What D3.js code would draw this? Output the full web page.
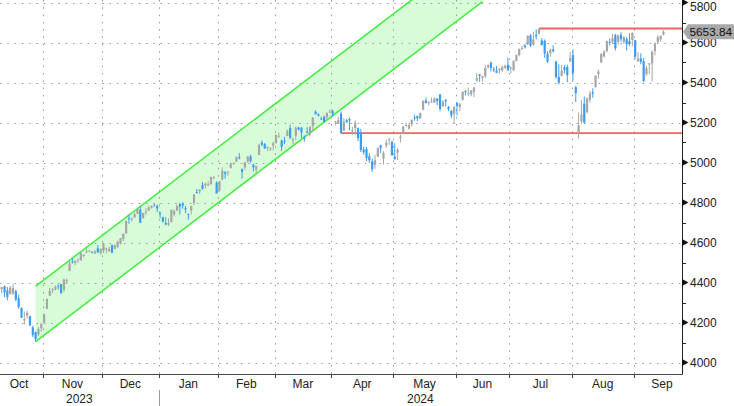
<!DOCTYPE html>
<html>
<head>
<meta charset="utf-8">
<script src="https://cdn.jsdelivr.net/npm/d3@7"></script>
<style>
  body { margin: 0; background: #fff; }
  svg { display: block; font-family: "Liberation Sans", Arial, sans-serif; }
</style>
</head>
<body>
<div id="chart"></div>
<script>
// daily candles per month: [day, open, high, low, close]
const oct23 = [
  [11,4366,4378,4345,4377],[12,4380,4385,4325,4350],[13,4360,4377,4311,4328],[16,4342,4383,4342,4374],
  [17,4345,4393,4337,4373],[18,4357,4364,4306,4315],[19,4321,4339,4269,4278],[20,4273,4276,4223,4224],
  [23,4210,4255,4189,4217],[24,4235,4259,4219,4248],[25,4232,4232,4181,4187],[26,4175,4184,4127,4137],
  [27,4152,4156,4104,4117],[30,4140,4177,4132,4167],[31,4171,4195,4153,4194]
];
const nov23 = [
  [1,4201,4245,4197,4238],[2,4268,4320,4268,4318],[3,4334,4373,4334,4358],[6,4365,4372,4347,4366],
  [7,4366,4386,4360,4378],[8,4384,4391,4364,4383],[9,4392,4393,4343,4347],[10,4364,4418,4353,4415],
  [13,4406,4421,4393,4412],[14,4458,4506,4458,4496],[15,4505,4521,4495,4503],[16,4497,4511,4487,4508],
  [17,4509,4521,4500,4514],[20,4511,4557,4510,4547],[21,4538,4542,4525,4538],[22,4553,4568,4545,4557],
  [24,4555,4560,4552,4559],[27,4554,4555,4546,4550],[28,4546,4562,4541,4555],[29,4571,4588,4547,4551],
  [30,4548,4570,4537,4568]
];
const dec23 = [
  [1,4559,4599,4547,4595],[4,4564,4574,4546,4570],[5,4557,4579,4552,4567],[6,4586,4590,4546,4549],
  [7,4568,4591,4566,4586],[8,4577,4609,4574,4604],[11,4593,4623,4590,4622],[12,4618,4644,4606,4644],
  [13,4646,4709,4643,4707],[14,4721,4739,4694,4720],[15,4714,4726,4704,4719],[18,4725,4749,4725,4741],
  [19,4743,4768,4743,4768],[20,4764,4778,4697,4698],[21,4724,4749,4717,4747],[22,4753,4773,4737,4755],
  [26,4759,4785,4758,4775],[27,4773,4785,4769,4782],[28,4786,4793,4781,4783],[29,4782,4789,4752,4770]
];
const jan24 = [
  [2,4745,4755,4722,4743],[3,4726,4729,4700,4705],[4,4698,4727,4687,4689],[5,4690,4722,4682,4697],
  [8,4703,4764,4699,4764],[9,4741,4765,4730,4757],[10,4760,4790,4757,4783],[11,4792,4799,4740,4780],
  [12,4792,4802,4769,4784],[16,4772,4782,4747,4766],[17,4743,4744,4714,4739],[18,4760,4785,4740,4781],
  [19,4797,4842,4786,4840],[22,4853,4868,4844,4850],[23,4856,4866,4842,4865],[24,4888,4903,4865,4869],
  [25,4886,4898,4870,4894],[26,4888,4906,4881,4891],[29,4892,4929,4887,4928],[30,4925,4932,4916,4925],
  [31,4899,4906,4845,4846]
];
const feb24 = [
  [1,4862,4907,4853,4906],[2,4917,4975,4910,4959],[5,4950,4958,4918,4943],[6,4950,4957,4934,4954],
  [7,4973,4999,4970,4995],[8,4995,5000,4988,4998],[9,5004,5030,5001,5027],[12,5026,5048,5016,5022],
  [13,4967,4971,4920,4953],[14,4976,5002,4963,5001],[15,5004,5033,4999,5030],[16,5031,5038,4999,5006],
  [20,4990,4994,4955,4976],[21,4963,4983,4946,4982],[22,5038,5094,5038,5087],[23,5100,5111,5081,5089],
  [26,5093,5097,5068,5070],[27,5074,5081,5057,5078],[28,5067,5077,5058,5070],[29,5085,5104,5061,5096]
];
const mar24 = [
  [1,5098,5140,5094,5137],[4,5130,5149,5127,5131],[5,5110,5114,5057,5079],[6,5108,5128,5092,5105],
  [7,5133,5165,5131,5157],[8,5173,5189,5117,5124],[11,5111,5125,5092,5118],[12,5134,5179,5114,5175],
  [13,5174,5179,5160,5165],[14,5175,5176,5123,5150],[15,5123,5136,5104,5117],[18,5154,5176,5148,5149],
  [19,5139,5180,5131,5179],[20,5182,5225,5161,5225],[21,5254,5261,5240,5242],[22,5242,5246,5230,5234],
  [25,5219,5229,5216,5218],[26,5228,5235,5203,5204],[27,5226,5249,5213,5248],[28,5249,5264,5248,5254]
];
const apr24 = [
  [1,5257,5263,5229,5244],[2,5204,5208,5185,5206],[3,5194,5228,5194,5211],[4,5245,5256,5146,5147],
  [5,5159,5222,5158,5204],[8,5211,5219,5198,5202],[9,5217,5224,5160,5210],[10,5161,5178,5138,5161],
  [11,5172,5211,5139,5199],[12,5171,5175,5107,5123],[15,5149,5168,5052,5062],[16,5064,5079,5039,5051],
  [17,5068,5077,5007,5022],[18,5031,5046,4998,5011],[19,5006,5019,4953,4967],[22,4988,5038,4969,5011],
  [23,5029,5076,5027,5071],[24,5085,5089,5047,5072],[25,5019,5057,4990,5048],[26,5084,5114,5073,5100],
  [29,5114,5124,5088,5116],[30,5103,5110,5035,5036]
];
const may24 = [
  [1,5029,5096,5013,5018],[2,5050,5073,5012,5064],[3,5122,5140,5100,5128],[6,5142,5181,5142,5181],
  [7,5188,5200,5179,5188],[8,5169,5191,5165,5188],[9,5190,5215,5180,5214],[10,5226,5239,5209,5223],
  [13,5233,5234,5207,5221],[14,5221,5250,5217,5247],[15,5264,5311,5263,5308],[16,5310,5325,5296,5297],
  [17,5303,5305,5284,5303],[20,5305,5325,5298,5308],[21,5298,5325,5297,5321],[22,5319,5323,5286,5307],
  [23,5340,5342,5256,5268],[24,5282,5311,5278,5305],[28,5315,5315,5280,5306],[29,5278,5282,5256,5267],
  [30,5259,5263,5223,5235],[31,5244,5281,5192,5278]
];
const jun24 = [
  [3,5297,5302,5235,5283],[4,5278,5298,5257,5291],[5,5314,5354,5309,5354],[6,5357,5362,5335,5353],
  [7,5343,5375,5331,5347],[10,5341,5362,5331,5361],[11,5353,5376,5327,5375],[12,5409,5447,5404,5421],
  [13,5441,5442,5403,5434],[14,5424,5433,5404,5432],[17,5431,5488,5421,5473],[18,5477,5490,5468,5487],
  [20,5499,5505,5455,5473],[21,5466,5478,5452,5465],[24,5459,5483,5447,5448],[25,5461,5472,5446,5469],
  [26,5460,5484,5452,5478],[27,5473,5490,5468,5483],[28,5488,5524,5460,5460]
];
const jul24 = [
  [1,5471,5479,5446,5475],[2,5461,5509,5458,5509],[3,5507,5540,5507,5537],[5,5537,5570,5531,5567],
  [8,5572,5583,5562,5573],[9,5585,5591,5570,5577],[10,5591,5635,5587,5634],[11,5635,5642,5577,5585],
  [12,5590,5655,5583,5615],[15,5638,5666,5615,5631],[16,5644,5670,5640,5667],[17,5610,5622,5584,5588],
  [18,5608,5615,5523,5545],[19,5543,5557,5497,5505],[22,5545,5570,5529,5564],[23,5565,5586,5551,5556],
  [24,5505,5508,5419,5427],[25,5428,5491,5391,5399],[26,5433,5488,5431,5459],[29,5476,5487,5445,5464],
  [30,5478,5489,5401,5436],[31,5505,5552,5504,5522]
];
const aug24 = [
  [1,5537,5566,5410,5447],[2,5376,5383,5302,5347],[5,5151,5250,5119,5186],[6,5206,5312,5193,5240],
  [7,5294,5330,5195,5200],[8,5252,5326,5245,5319],[9,5314,5358,5300,5344],[12,5351,5371,5324,5344],
  [13,5376,5436,5376,5434],[14,5442,5464,5419,5455],[15,5501,5546,5497,5543],[16,5530,5561,5525,5554],
  [19,5557,5608,5551,5608],[20,5602,5621,5585,5597],[21,5603,5643,5592,5621],[22,5637,5643,5560,5571],
  [23,5603,5641,5590,5635],[26,5639,5651,5603,5617],[27,5602,5631,5593,5626],[28,5617,5627,5560,5592],
  [29,5607,5646,5583,5592],[30,5612,5651,5581,5648]
];
const sep24 = [
  [3,5612,5612,5517,5529],[4,5506,5552,5504,5520],[5,5520,5546,5491,5503],[6,5507,5522,5402,5408],
  [9,5442,5484,5434,5471],[10,5490,5497,5442,5496],[11,5496,5560,5406,5554],[12,5557,5600,5536,5596],
  [13,5603,5636,5596,5626],[16,5615,5636,5604,5633],[17,5640,5662,5636,5654]
];

const monthKeys = ["2023-10","2023-11","2023-12","2024-01","2024-02","2024-03","2024-04","2024-05","2024-06","2024-07","2024-08","2024-09"];
const monthLabels = ["Oct","Nov","Dec","Jan","Feb","Mar","Apr","May","Jun","Jul","Aug","Sep"];
const tradingDaysInMonth = [22,21,20,21,20,20,22,22,19,22,22,20];
const yearLabels = ["2023","2024"];
const yTicks = [4000,4200,4400,4600,4800,5000,5200,5400,5600,5800];
const yMinorTicks = [4100,4300,4500,4700,4900,5100,5300,5500,5700];
const lastPrice = 5653.84;

// trend channel (two parallel lines)
const channelDates = ["2023-10-27","2024-06-14"];
const channelLower = [4104, 5804];
const channelUpper = [4382, 6082];

// horizontal levels: start date, level
const levelDates = ["2024-07-16","2024-04-04"];
const levelValues = [5670, 5147];

// flatten the months into one row per trading day
let rows = [];
let monthFirst = [], monthCount = [];
[oct23, nov23, dec23, jan24, feb24, mar24, apr24, may24, jun24, jul24, aug24, sep24].forEach(function(m, mi) {
  monthFirst.push(rows.length);
  monthCount.push(m.length);
  m.forEach(function(b) {
    rows.push({
      date: monthKeys[mi] + "-" + String(b[0]).padStart(2, "0"),
      open: b[1], high: b[2], low: b[3], close: b[4]
    });
  });
});
rows.forEach((d, i) => d.i = i);
const dayIndex = new Map(rows.map(d => [d.date, d.i]));
function idxOf(date) { return dayIndex.get(date); }

// month spans in trading-day index (Oct starts before the data does)
let monthStart = monthFirst.map((f, mi) => mi === 0 ? f - (tradingDaysInMonth[0] - monthCount[0]) : f);
let monthEnd = monthStart.map((s, mi) => s + tradingDaysInMonth[mi]);

let svgWidth = 734, svgHeight = 406;
let plotRight = 682, plotBottom = 374;

let svg = d3.select("#chart").append("svg")
  .attr("width", svgWidth)
  .attr("height", svgHeight);

let x = d3.scaleLinear().domain([-0.6, 240.56]).range([0, plotRight]);
let y = d3.scaleLinear().domain([4000, 5800]).range([362.5, 2.5]);

svg.append("defs").append("clipPath").attr("id", "plot")
  .append("rect").attr("x", 0).attr("y", 0).attr("width", plotRight).attr("height", plotBottom);

let plot = svg.append("g").attr("clip-path", "url(#plot)");

// channel fill
let c0 = idxOf(channelDates[0]), c1 = idxOf(channelDates[1]);
plot.append("path")
  .attr("d", d3.line()([
    [x(c0), y(channelLower[0])], [x(c1), y(channelLower[1])],
    [x(c1), y(channelUpper[1])], [x(c0), y(channelUpper[0])]
  ]) + "Z")
  .attr("fill", "#d8fcd8");

// grid
let monthTicks = monthStart.slice(1).map(s => x(s - 0.5));
plot.selectAll(".hgrid").data(yTicks).enter().append("line")
  .attr("x1", 0).attr("x2", plotRight)
  .attr("y1", d => Math.round(y(d)) + 0.5).attr("y2", d => Math.round(y(d)) + 0.5)
  .attr("stroke", "#999").attr("stroke-dasharray", "1.5,5.8");
plot.selectAll(".vgrid").data(monthTicks).enter().append("line")
  .attr("x1", d => Math.round(d) + 0.5).attr("x2", d => Math.round(d) + 0.5)
  .attr("y1", 0).attr("y2", plotBottom)
  .attr("stroke", "#999").attr("stroke-dasharray", "1.5,5.8");

// channel lines
[channelLower, channelUpper].forEach(function(v) {
  plot.append("line")
    .attr("x1", x(c0)).attr("y1", y(v[0]))
    .attr("x2", x(c1)).attr("y2", y(v[1]))
    .attr("stroke", "#3fee3f").attr("stroke-width", 1.5);
});

// support / resistance
levelDates.forEach(function(dt, k) {
  plot.append("line")
    .attr("x1", x(idxOf(dt))).attr("x2", plotRight)
    .attr("y1", y(levelValues[k])).attr("y2", y(levelValues[k]))
    .attr("stroke", "#f06464").attr("stroke-width", 1.8);
});

// candles
let upColor = "#a6a6a6", downColor = "#3d9cf2";
let candle = plot.selectAll(".candle").data(rows).enter().append("g");
candle.append("line")
  .attr("x1", d => x(d.i)).attr("x2", d => x(d.i))
  .attr("y1", d => y(d.high)).attr("y2", d => y(d.low))
  .attr("stroke", d => d.close < d.open ? downColor : upColor)
  .attr("stroke-width", 1);
candle.append("rect")
  .attr("x", d => x(d.i) - 1.1)
  .attr("width", 2.2)
  .attr("y", d => y(Math.max(d.open, d.close)))
  .attr("height", d => Math.max(1, Math.abs(y(d.open) - y(d.close))))
  .attr("fill", d => d.close < d.open ? downColor : upColor);

// bottom axis
svg.append("line")
  .attr("x1", 0).attr("x2", plotRight + 0.5)
  .attr("y1", plotBottom + 0.5).attr("y2", plotBottom + 0.5)
  .attr("stroke", "#444");
svg.selectAll(".xtick").data(monthTicks).enter().append("line")
  .attr("x1", d => Math.round(d) + 0.5).attr("x2", d => Math.round(d) + 0.5)
  .attr("y1", plotBottom).attr("y2", plotBottom + 4)
  .attr("stroke", "#444");
svg.selectAll(".xlabel").data(monthLabels).enter().append("text")
  .attr("x", function(d, mi) {
    let c = (x(monthStart[mi] - 0.5) + x(monthEnd[mi] - 0.5)) / 2;
    return Math.max(c, 19);
  })
  .attr("y", 388)
  .attr("text-anchor", "middle")
  .attr("font-size", 12)
  .attr("fill", "#222")
  .text(d => d);

let janTick = x(monthStart[3] - 0.5);
svg.append("line")
  .attr("x1", Math.round(janTick) + 0.5).attr("x2", Math.round(janTick) + 0.5)
  .attr("y1", 390).attr("y2", svgHeight)
  .attr("stroke", "#999");
let yearCenters = [janTick / 2, (janTick + plotRight) / 2];
svg.selectAll(".ylabel").data(yearLabels).enter().append("text")
  .attr("x", (d, k) => yearCenters[k])
  .attr("y", 403)
  .attr("text-anchor", "middle")
  .attr("font-size", 12)
  .attr("fill", "#222")
  .text(d => d);

// right axis
svg.append("line")
  .attr("x1", plotRight + 0.5).attr("x2", plotRight + 0.5)
  .attr("y1", 0).attr("y2", plotBottom + 0.5)
  .attr("stroke", "#222");
svg.selectAll(".ymin").data(yMinorTicks).enter().append("line")
  .attr("x1", plotRight).attr("x2", plotRight + 4)
  .attr("y1", d => Math.round(y(d)) + 0.5).attr("y2", d => Math.round(y(d)) + 0.5)
  .attr("stroke", "#222");
svg.selectAll(".yarrow").data(yTicks).enter().append("path")
  .attr("d", d => {
    let yy = y(d);
    return `M${plotRight},${yy - 3.5}L${plotRight + 6.5},${yy}L${plotRight},${yy + 3.5}Z`;
  })
  .attr("fill", "#111");
// labels stay inside the top edge
svg.selectAll(".ytext").data(yTicks).enter().append("text")
  .attr("x", plotRight + 8)
  .attr("y", d => Math.max(y(d) + 4.5, 11))
  .attr("font-size", 12)
  .attr("fill", "#222")
  .text(d => d);

// last price tag
let ly = y(lastPrice);
svg.append("path")
  .attr("d", `M${plotRight + 1},${ly}L${plotRight + 6},${ly - 7.5}L${svgWidth},${ly - 7.5}L${svgWidth},${ly + 7.5}L${plotRight + 6},${ly + 7.5}Z`)
  .attr("fill", "#a9a9a9");
svg.append("text")
  .attr("x", plotRight + 7.5)
  .attr("y", ly + 4.5)
  .attr("font-size", 11.8)
  .attr("fill", "#111")
  .text(lastPrice.toFixed(2));
</script>
</body>
</html>
